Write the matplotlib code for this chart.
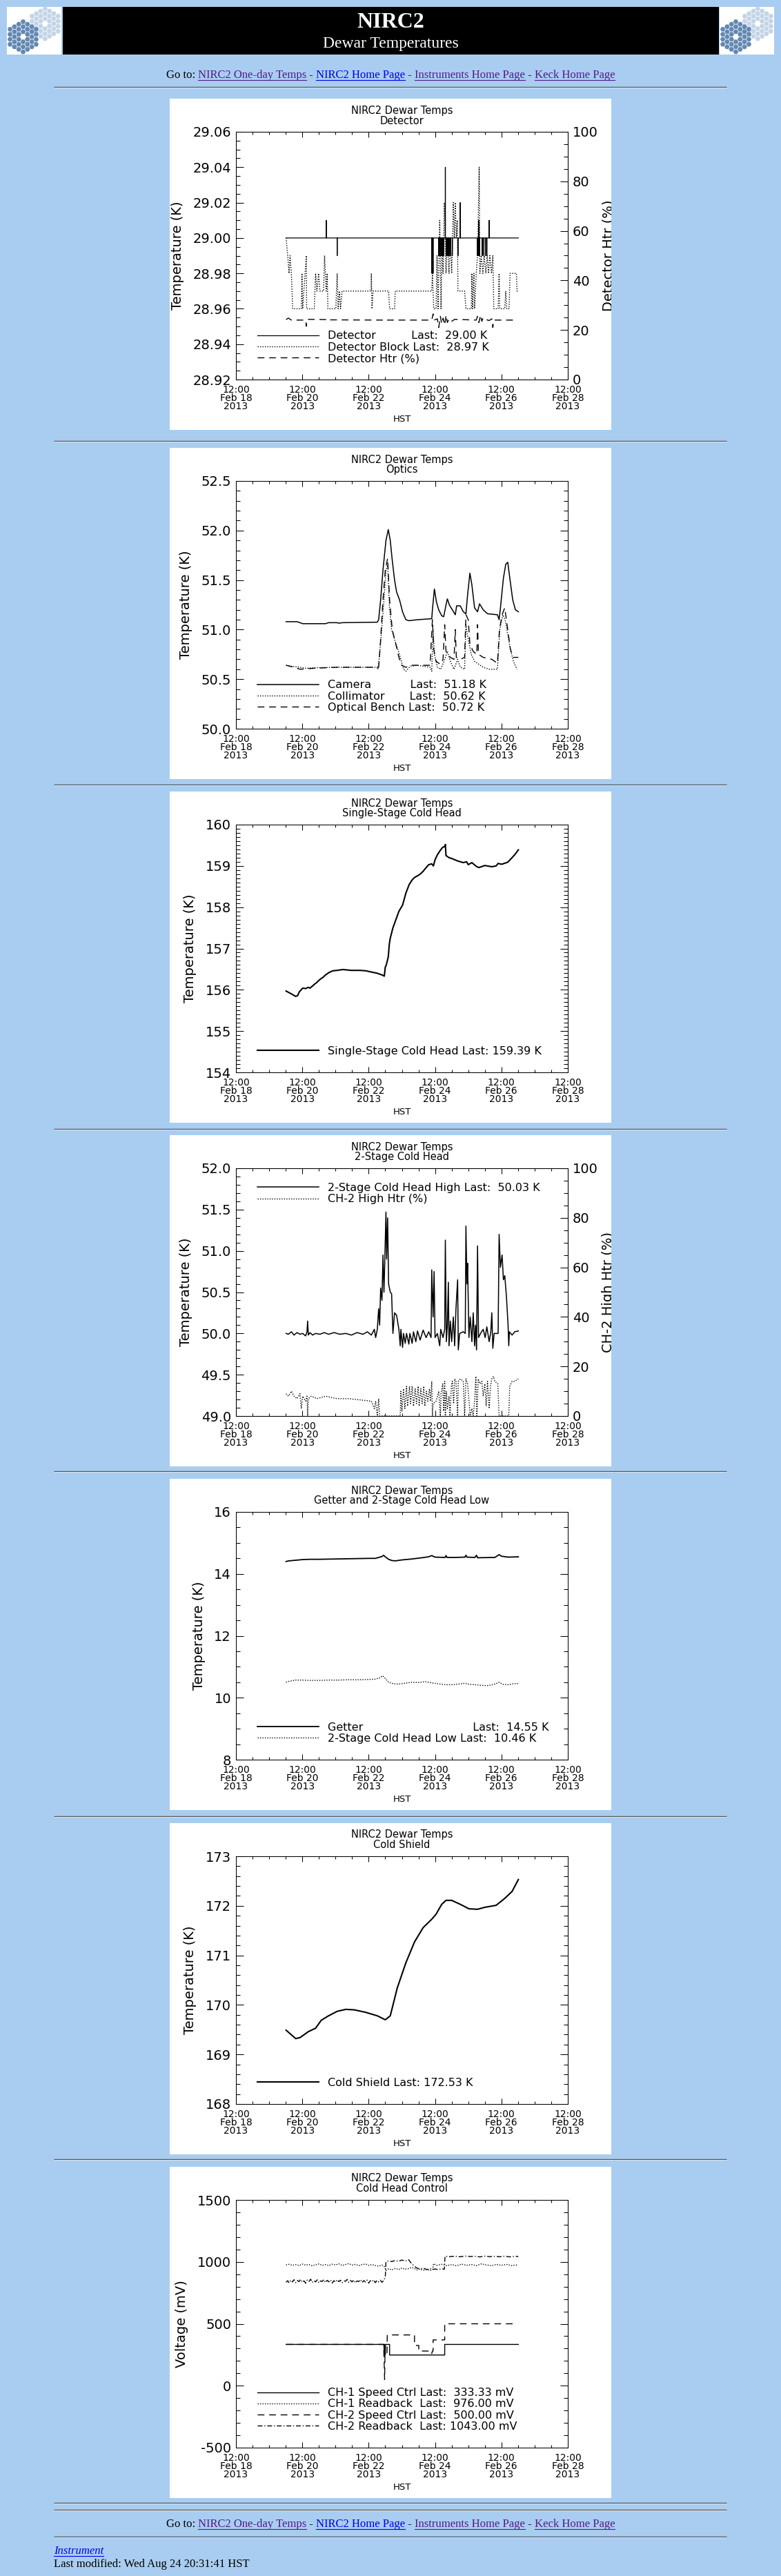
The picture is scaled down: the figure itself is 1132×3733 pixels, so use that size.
import numpy as np
import matplotlib
matplotlib.use('Agg')
import matplotlib.pyplot as plt
import matplotlib.dates as mdates
from matplotlib.patches import Rectangle, RegularPolygon
from matplotlib.ticker import MultipleLocator, FormatStrFormatter

plt.rcParams['font.family'] = ['DejaVu Sans']

W, H = 1132, 3733
PAGE_BG = '#a9cdf0'
PURPLE = '#551a8b'
BLUE = '#0000ee'
LOGO_DARK = '#6388b2'
LOGO_LIGHT = '#c3d4e7'

# x values are days after 2013-02-18 12:00 HST
T0 = np.datetime64('2013-02-18T12:00', 'm')
MAJOR_DAYS = [0, 2, 4, 6, 8, 10]

# ---------------- panel 1 : detector
DET_START, DET_END, DET_BASE = 1.51, 8.51, 29.00
DET_SPIKES = [(2.72, 29.01), (3.05, 28.99), (5.905, 28.98), (5.94, 28.98),
              (6.11, 28.99), (6.13, 28.99), (6.16, 28.99), (6.19, 28.99),
              (6.21, 28.99), (6.24, 28.99), (6.26, 28.99), (6.31, 29.04),
              (6.34, 28.99), (6.37, 28.99), (6.40, 28.99), (6.43, 28.99),
              (6.47, 28.99), (6.52, 28.99), (6.69, 28.99), (6.76, 29.02),
              (7.28, 28.99), (7.30, 28.99), (7.32, 29.01), (7.34, 28.99),
              (7.42, 28.99), (7.47, 28.99), (7.52, 28.99), (7.56, 28.99),
              (7.63, 29.01)]
DET_BLOCK = [(1.51, 29.00), (1.56, 28.99), (1.60, 28.98), (1.63, 28.99), (1.67, 28.98),
             (1.71, 28.96), (1.97, 28.96), (1.99, 28.98), (2.01, 28.96), (2.12, 28.99),
             (2.13, 28.96), (2.36, 28.96), (2.40, 28.98), (2.44, 28.97), (2.49, 28.98),
             (2.53, 28.97), (2.64, 28.97), (2.67, 28.99), (2.72, 28.97), (2.75, 28.98),
             (2.77, 28.96), (3.01, 28.96), (3.05, 28.98), (3.08, 28.96), (3.12, 28.97),
             (3.15, 28.96), (3.20, 28.97), (4.07, 28.97), (4.08, 28.98), (4.10, 28.96),
             (4.13, 28.97), (4.60, 28.97), (4.63, 28.96), (4.78, 28.96), (4.80, 28.97),
             (5.90, 28.97), (5.92, 28.98), (5.96, 28.96), (6.03, 28.96), (6.06, 28.99),
             (6.09, 28.96), (6.14, 29.01), (6.18, 28.96), (6.21, 29.00), (6.24, 28.98),
             (6.28, 29.02), (6.33, 28.98), (6.37, 29.00), (6.42, 28.98), (6.46, 29.00),
             (6.50, 28.98), (6.55, 29.02), (6.58, 29.00), (6.61, 29.02), (6.64, 29.00),
             (6.67, 29.01), (6.69, 28.97), (6.89, 28.97), (6.93, 28.96), (7.09, 28.96),
             (7.11, 28.98), (7.13, 28.96), (7.17, 28.98), (7.19, 28.96), (7.24, 28.98),
             (7.28, 28.99), (7.33, 29.04), (7.35, 28.98), (7.39, 28.99), (7.44, 28.98),
             (7.48, 28.99), (7.53, 28.98), (7.57, 28.99), (7.61, 28.98), (7.65, 28.99),
             (7.70, 28.98), (7.74, 28.99), (7.77, 28.96), (7.90, 28.96), (7.93, 28.98),
             (7.95, 28.96), (8.10, 28.96), (8.13, 28.97), (8.16, 28.96), (8.23, 28.96),
             (8.26, 28.98), (8.45, 28.98), (8.47, 28.97), (8.51, 28.97)]
DET_HTR = [(1.51, 24.2), (1.58, 24.8), (1.67, 24.0), (2.10, 24.0), (2.12, 21.5), (2.15, 24.3),
           (2.70, 24.2), (2.75, 24.6), (2.79, 24.1), (4.43, 24.0), (4.47, 23.6), (4.52, 24.0),
           (5.90, 24.0), (5.94, 26.5), (5.97, 24.0), (6.07, 24.5), (6.11, 21.0), (6.16, 25.5),
           (6.20, 22.5), (6.24, 24.8), (6.29, 22.0), (6.33, 26.0), (6.37, 23.0), (6.42, 24.5),
           (6.50, 23.5), (6.59, 24.3), (7.24, 24.0), (7.28, 25.5), (7.32, 23.0), (7.37, 26.0),
           (7.41, 23.5), (7.45, 25.0), (7.54, 24.2), (7.63, 23.8), (7.71, 24.5), (7.74, 21.0),
           (7.77, 24.0), (8.47, 24.0)]

# ---------------- panel 2 : optics
CAMERA = [(1.51, 51.08), (1.84, 51.08), (1.93, 51.07), (2.01, 51.06), (2.70, 51.06),
          (2.79, 51.07), (3.05, 51.07), (3.09, 51.065), (3.22, 51.07), (4.26, 51.075),
          (4.30, 51.10), (4.36, 51.30), (4.43, 51.60), (4.52, 51.90), (4.59, 52.01),
          (4.65, 51.90), (4.71, 51.70), (4.78, 51.50), (4.84, 51.38), (4.93, 51.30),
          (5.02, 51.18), (5.12, 51.10), (5.21, 51.09), (5.47, 51.10), (5.90, 51.11),
          (5.92, 51.20), (5.98, 51.41), (6.04, 51.28), (6.11, 51.20), (6.20, 51.14),
          (6.26, 51.13), (6.33, 51.25), (6.37, 51.31), (6.43, 51.25), (6.52, 51.20),
          (6.61, 51.15), (6.65, 51.24), (6.76, 51.24), (6.85, 51.18), (6.93, 51.16),
          (6.98, 51.35), (7.05, 51.57), (7.11, 51.45), (7.19, 51.22), (7.28, 51.18),
          (7.34, 51.26), (7.45, 51.20), (7.58, 51.16), (7.88, 51.15), (7.93, 51.10),
          (7.97, 51.22), (8.06, 51.52), (8.13, 51.66), (8.19, 51.68), (8.26, 51.50),
          (8.34, 51.30), (8.42, 51.20), (8.51, 51.18)]
COLLIMATOR = [(1.51, 50.64), (1.67, 50.63), (1.93, 50.62), (2.10, 50.61), (2.36, 50.615),
              (3.05, 50.62), (3.91, 50.62), (4.24, 50.62), (4.28, 50.60), (4.33, 50.75),
              (4.39, 51.00), (4.45, 51.25), (4.52, 51.60), (4.57, 51.65), (4.63, 51.20),
              (4.69, 51.00), (4.78, 50.90), (4.88, 50.80), (4.97, 50.70), (5.05, 50.60),
              (5.12, 50.58), (5.25, 50.63), (5.47, 50.64), (5.85, 50.62), (5.90, 50.58),
              (5.94, 51.00), (5.98, 50.75), (6.07, 50.62), (6.17, 50.60), (6.29, 50.70),
              (6.37, 50.78), (6.46, 50.68), (6.57, 50.60), (6.68, 50.70), (6.76, 50.62),
              (6.89, 50.60), (6.93, 51.05), (7.00, 50.90), (7.09, 50.75), (7.19, 50.68),
              (7.32, 50.65), (7.45, 50.62), (7.63, 50.60), (7.88, 50.60), (7.95, 51.00),
              (8.04, 51.15), (8.11, 51.10), (8.19, 50.95), (8.27, 50.80), (8.36, 50.68),
              (8.47, 50.60)]
OPT_BENCH = [(1.51, 50.64), (1.75, 50.62), (1.93, 50.60), (2.36, 50.61), (3.05, 50.62),
             (4.26, 50.62), (4.30, 50.62), (4.36, 50.90), (4.43, 51.30), (4.50, 51.60),
             (4.57, 51.72), (4.63, 51.30), (4.71, 51.00), (4.82, 50.85), (4.91, 50.72),
             (4.99, 50.64), (5.12, 50.62), (5.29, 50.64), (5.85, 50.64), (5.92, 51.10),
             (5.96, 50.80), (6.03, 50.68), (6.16, 50.65), (6.24, 50.70), (6.29, 51.05),
             (6.33, 50.78), (6.46, 50.72), (6.57, 50.70), (6.61, 51.00), (6.64, 50.72),
             (6.76, 50.70), (6.89, 50.72), (6.93, 51.15), (7.00, 51.10), (7.05, 50.85),
             (7.15, 50.78), (7.26, 50.75), (7.28, 51.05), (7.31, 50.75), (7.45, 50.72),
             (7.71, 50.70), (7.88, 50.66), (7.94, 51.00), (8.02, 51.15), (8.10, 51.22),
             (8.19, 51.00), (8.27, 50.80), (8.36, 50.72), (8.51, 50.72)]

# ---------------- panel 3 : single-stage cold head
SINGLE_STAGE = [(1.51, 155.97), (1.67, 155.90), (1.80, 155.84), (1.86, 155.86), (1.91, 155.95),
                (2.01, 156.04), (2.10, 156.03), (2.18, 156.06), (2.23, 156.04), (2.29, 156.08),
                (2.36, 156.13), (2.44, 156.18), (2.53, 156.25), (2.62, 156.30), (2.70, 156.36),
                (2.81, 156.42), (2.92, 156.46), (3.05, 156.47), (3.22, 156.49), (3.48, 156.47),
                (3.74, 156.47), (3.91, 156.46), (4.08, 156.43), (4.26, 156.40), (4.43, 156.35),
                (4.47, 156.33), (4.50, 156.55), (4.53, 156.60), (4.59, 156.80), (4.62, 157.10),
                (4.65, 157.25), (4.73, 157.50), (4.82, 157.70), (4.91, 157.90), (5.02, 158.05),
                (5.12, 158.34), (5.22, 158.55), (5.31, 158.66), (5.38, 158.72), (5.47, 158.76),
                (5.55, 158.80), (5.64, 158.87), (5.72, 158.95), (5.81, 159.03), (5.90, 159.05),
                (5.95, 159.00), (6.00, 159.15), (6.07, 159.27), (6.16, 159.38), (6.23, 159.45),
                (6.29, 159.47), (6.31, 159.52), (6.33, 159.25), (6.42, 159.20), (6.50, 159.18),
                (6.68, 159.12), (6.85, 159.08), (6.95, 159.10), (7.00, 159.03), (7.11, 159.08),
                (7.24, 158.99), (7.32, 158.96), (7.50, 159.01), (7.71, 158.98), (7.84, 159.00),
                (7.90, 159.06), (8.01, 159.04), (8.19, 159.09), (8.32, 159.20), (8.42, 159.29),
                (8.51, 159.39)]

# ---------------- panel 4 : 2-stage cold head
CH2_HIGH = [(1.51, 50.00), (1.58, 49.99), (1.67, 50.02), (1.75, 49.98), (1.84, 50.01),
            (1.93, 49.99), (2.01, 50.00), (2.10, 49.97), (2.14, 50.02), (2.16, 50.15),
            (2.18, 49.98), (2.23, 50.01), (2.31, 49.98), (2.40, 50.00), (2.53, 49.99),
            (2.66, 50.01), (2.79, 49.99), (2.96, 50.01), (3.13, 49.99), (3.31, 50.00),
            (3.48, 49.98), (3.65, 50.01), (3.83, 49.99), (3.96, 50.02), (4.08, 49.98),
            (4.17, 50.05), (4.21, 49.95), (4.26, 50.05), (4.30, 50.30), (4.33, 50.10),
            (4.36, 50.55), (4.40, 50.40), (4.43, 50.95), (4.46, 50.50), (4.48, 50.80),
            (4.52, 51.47), (4.54, 50.90), (4.57, 51.40), (4.60, 50.60), (4.65, 50.50),
            (4.69, 50.48), (4.73, 50.00), (4.78, 50.25), (4.84, 50.22), (4.91, 50.05),
            (4.95, 49.85), (4.97, 50.05), (5.02, 49.83), (5.05, 50.00), (5.10, 49.88),
            (5.14, 50.00), (5.21, 49.87), (5.24, 50.00), (5.31, 49.88), (5.35, 50.02),
            (5.42, 49.90), (5.47, 50.03), (5.55, 49.92), (5.64, 50.04), (5.73, 49.95),
            (5.81, 50.02), (5.88, 49.95), (5.90, 50.77), (5.94, 50.20), (5.97, 50.75),
            (6.00, 49.95), (6.07, 50.00), (6.14, 49.85), (6.17, 50.05), (6.24, 49.95),
            (6.29, 50.05), (6.31, 51.13), (6.34, 49.90), (6.37, 50.10), (6.40, 50.62),
            (6.42, 49.85), (6.46, 50.15), (6.50, 49.90), (6.55, 50.20), (6.59, 49.85),
            (6.63, 50.30), (6.68, 50.65), (6.70, 49.80), (6.74, 50.00), (6.85, 50.02),
            (6.91, 50.00), (6.93, 51.30), (6.96, 50.60), (6.98, 50.85), (7.02, 49.95),
            (7.06, 50.20), (7.11, 49.90), (7.15, 50.25), (7.19, 49.85), (7.22, 50.10),
            (7.25, 49.80), (7.28, 51.06), (7.31, 49.95), (7.37, 50.00), (7.45, 50.05),
            (7.51, 49.95), (7.56, 50.08), (7.63, 49.90), (7.68, 50.02), (7.71, 50.25),
            (7.74, 49.82), (7.78, 50.00), (7.90, 50.00), (7.93, 51.20), (7.97, 50.80),
            (8.02, 50.95), (8.06, 50.65), (8.10, 50.70), (8.15, 50.45), (8.20, 50.10),
            (8.22, 49.85), (8.24, 50.02), (8.32, 49.98), (8.40, 50.02), (8.51, 50.03)]
CH2_HTR = [(1.51, 9), (1.58, 8), (1.67, 10), (1.75, 8), (1.84, 7), (1.93, 9), (1.97, 3),
           (2.01, 8), (2.10, 6), (2.14, 8), (2.16, 0), (2.18, 7), (2.27, 8), (2.44, 7),
           (2.70, 8), (3.05, 7), (3.39, 7), (3.74, 6.5), (4.08, 6), (4.17, 3), (4.21, 6),
           (4.26, 0), (4.30, 7), (4.33, 0), (4.95, 0), (4.97, 10), (5.00, 2), (5.05, 11),
           (5.09, 3), (5.14, 12), (5.17, 4), (5.23, 12), (5.26, 5), (5.31, 12), (5.35, 4),
           (5.40, 11), (5.44, 5), (5.49, 12), (5.52, 4), (5.57, 11), (5.61, 5), (5.66, 12),
           (5.69, 4), (5.74, 10), (5.78, 6), (5.83, 11), (5.86, 6), (5.90, 14), (5.92, 0),
           (5.94, 5), (6.03, 6), (6.07, 8), (6.11, 10), (6.16, 0), (6.18, 9), (6.23, 13),
           (6.26, 2), (6.29, 14), (6.31, 0), (6.34, 10), (6.37, 3), (6.42, 8), (6.45, 0),
           (6.49, 12), (6.52, 14), (6.56, 5), (6.59, 15), (6.63, 14), (6.68, 0), (6.70, 14),
           (6.76, 15), (6.85, 14), (6.89, 0), (6.93, 15), (6.98, 13), (7.06, 0), (7.11, 3),
           (7.15, 0), (7.19, 6), (7.23, 16), (7.26, 0), (7.30, 15), (7.35, 13), (7.41, 14),
           (7.45, 8), (7.50, 13), (7.54, 4), (7.58, 14), (7.63, 3), (7.67, 12), (7.71, 15),
           (7.76, 16), (7.80, 14), (7.89, 13), (7.93, 0), (8.22, 0), (8.25, 12), (8.32, 14),
           (8.40, 14), (8.51, 15)]

# ---------------- panel 5 : getter and 2-stage low
GETTER = [(1.51, 14.40), (1.60, 14.42), (1.80, 14.44), (2.00, 14.46), (2.20, 14.47),
          (2.50, 14.47), (3.00, 14.48), (3.50, 14.49), (4.00, 14.50), (4.20, 14.50),
          (4.30, 14.53), (4.40, 14.56), (4.45, 14.60), (4.50, 14.55), (4.60, 14.47),
          (4.70, 14.43), (4.80, 14.42), (5.00, 14.45), (5.30, 14.48), (5.60, 14.52),
          (5.80, 14.55), (5.90, 14.59), (6.00, 14.54), (6.30, 14.53), (6.33, 14.59),
          (6.36, 14.53), (6.60, 14.53), (6.90, 14.54), (6.93, 14.60), (6.96, 14.54),
          (7.20, 14.53), (7.25, 14.60), (7.28, 14.52), (7.80, 14.53), (7.93, 14.62),
          (8.00, 14.57), (8.20, 14.54), (8.51, 14.55)]
CH2_LOW = [(1.51, 10.50), (1.60, 10.53), (1.70, 10.55), (1.80, 10.57), (2.00, 10.57),
           (2.20, 10.56), (2.50, 10.56), (2.80, 10.57), (3.10, 10.57), (3.40, 10.58),
           (3.70, 10.58), (4.00, 10.59), (4.20, 10.60), (4.35, 10.65), (4.42, 10.71),
           (4.50, 10.62), (4.60, 10.50), (4.75, 10.45), (4.90, 10.44), (5.10, 10.47),
           (5.30, 10.50), (5.50, 10.49), (5.70, 10.52), (5.90, 10.48), (6.10, 10.45),
           (6.30, 10.42), (6.50, 10.42), (6.70, 10.44), (6.90, 10.47), (7.00, 10.44),
           (7.20, 10.42), (7.40, 10.40), (7.60, 10.39), (7.80, 10.44), (7.93, 10.50),
           (8.05, 10.43), (8.20, 10.42), (8.35, 10.45), (8.51, 10.46)]

# ---------------- panel 6 : cold shield
COLD_SHIELD = [(1.51, 169.49), (1.80, 169.32), (1.93, 169.34), (2.18, 169.46), (2.40, 169.53),
               (2.57, 169.69), (2.79, 169.78), (3.05, 169.87), (3.31, 169.91), (3.57, 169.90),
               (3.91, 169.85), (4.26, 169.78), (4.50, 169.70), (4.65, 169.78), (4.86, 170.34),
               (5.12, 170.85), (5.38, 171.27), (5.64, 171.56), (5.90, 171.73), (6.03, 171.83),
               (6.20, 172.03), (6.33, 172.11), (6.50, 172.11), (6.76, 172.03), (7.02, 171.94),
               (7.28, 171.93), (7.50, 171.97), (7.84, 172.01), (8.10, 172.15), (8.32, 172.29),
               (8.51, 172.53)]

# ---------------- panel 7 : cold head control
CH1_SPEED = [(1.51, 333.33), (4.46, 333.33), (4.465, 240), (4.47, 333.33), (4.48, 240),
             (4.485, 333.33), (4.50, 250), (4.505, 333.33), (4.63, 333.33), (4.63, 248),
             (6.29, 248), (6.29, 333.33), (8.51, 333.33)]
CH1_READ = [(1.51, 975), (1.60, 980), (1.70, 972), (1.80, 978), (1.90, 970), (2.00, 982),
            (2.10, 974), (2.20, 979), (2.30, 968), (2.40, 977), (2.50, 983), (2.60, 972),
            (2.70, 978), (2.80, 970), (2.90, 981), (3.00, 975), (3.10, 984), (3.20, 971),
            (3.30, 978), (3.40, 986), (3.50, 974), (3.60, 980), (3.70, 969), (3.80, 977),
            (3.90, 983), (4.00, 972), (4.10, 978), (4.20, 970), (4.30, 965), (4.40, 975),
            (4.48, 960), (4.52, 930), (4.60, 945), (4.70, 935), (4.80, 948), (4.90, 938),
            (5.00, 950), (5.10, 940), (5.20, 946), (5.30, 955), (5.38, 945), (5.45, 935),
            (5.55, 942), (5.65, 932), (5.75, 940), (5.85, 930), (5.93, 938), (5.95, 985),
            (6.05, 972), (6.20, 980), (6.35, 970), (6.50, 978), (6.65, 968), (6.80, 982),
            (6.95, 972), (7.10, 978), (7.25, 970), (7.40, 984), (7.55, 975), (7.70, 969),
            (7.85, 979), (8.00, 972), (8.15, 980), (8.30, 970), (8.51, 976)]
CH2_SPEED = [(1.51, 333.33), (4.45, 333.33), (4.46, 250), (4.48, 50), (4.49, 250),
             (4.55, 250), (4.56, 410), (5.38, 410), (5.38, 325), (5.51, 325), (5.51, 280),
             (5.88, 280), (5.90, 260), (5.92, 280), (5.94, 280), (5.94, 370), (6.29, 370),
             (6.29, 500), (8.44, 500)]
CH2_READ = [(1.51, 835), (1.56, 848), (1.60, 830), (1.65, 852), (1.70, 838), (1.75, 856),
            (1.80, 832), (1.85, 850), (1.90, 840), (1.95, 858), (2.00, 835), (2.05, 847),
            (2.10, 828), (2.15, 853), (2.20, 841), (2.25, 860), (2.30, 834), (2.35, 849),
            (2.40, 838), (2.45, 855), (2.50, 830), (2.55, 846), (2.60, 842), (2.65, 857),
            (2.70, 833), (2.75, 851), (2.80, 839), (2.85, 854), (2.90, 829), (2.95, 848),
            (3.00, 836), (3.05, 856), (3.10, 840), (3.15, 852), (3.20, 831), (3.25, 847),
            (3.30, 843), (3.35, 858), (3.40, 834), (3.45, 850), (3.50, 838), (3.55, 854),
            (3.60, 830), (3.65, 846), (3.70, 841), (3.75, 857), (3.80, 833), (3.85, 849),
            (3.90, 837), (3.95, 853), (4.00, 828), (4.05, 848), (4.10, 840), (4.15, 855),
            (4.20, 832), (4.25, 850), (4.30, 838), (4.35, 852), (4.40, 835), (4.45, 848),
            (4.50, 880), (4.52, 1000), (4.60, 1008), (4.70, 1002), (4.80, 1012), (4.90, 1004),
            (5.00, 1015), (5.10, 1006), (5.20, 1018), (5.25, 1000), (5.30, 985), (5.40, 960),
            (5.45, 950), (5.55, 944), (5.65, 948), (5.75, 938), (5.85, 945), (5.93, 940),
            (6.00, 942), (6.10, 938), (6.20, 944), (6.28, 940), (6.30, 1045), (6.45, 1042),
            (6.60, 1046), (6.75, 1041), (6.90, 1047), (7.05, 1043), (7.20, 1045), (7.35, 1040),
            (7.50, 1046), (7.65, 1042), (7.80, 1045), (7.95, 1041), (8.10, 1046), (8.25, 1040),
            (8.40, 1045), (8.51, 1043)]

LINKS = [('Go to: ', 'black', False), ('NIRC2 One-day Temps', PURPLE, True), (' - ', 'black', False),
         ('NIRC2 Home Page', BLUE, True), (' - ', 'black', False),
         ('Instruments Home Page', PURPLE, True), (' - ', 'black', False),
         ('Keck Home Page', PURPLE, True)]

PANEL_TOPS = [143, 649, 1147, 1645, 2143, 2642, 3140]
HR_YS = [126, 639, 1137, 1636, 2132, 2632, 3129, 3627, 3637, 3676]

DOT = (0, (1, 1.5))
DASH = (0, (7, 5))
DASHDOT = (0, (5, 2, 1, 2))


def to_time(days):
    mins = np.round(np.asarray(days, dtype=float) * 1440).astype(np.int64)
    return T0 + mins.astype('timedelta64[m]')


def unzip(pairs):
    d, v = zip(*pairs)
    return to_time(d), np.array(v)


def spike_trace(start, end, base, spikes, w=0.003):
    xs, ys = [start], [base]
    for d, v in spikes:
        xs += [d - w, d, d + w]
        ys += [base, v, base]
    xs.append(end)
    ys.append(base)
    return to_time(xs), np.array(ys)


fig = plt.figure(figsize=(W / 100, H / 100), dpi=100)
fig.patch.set_facecolor(PAGE_BG)
page = fig.add_axes([0, 0, 1, 1])
page.set_xlim(0, W)
page.set_ylim(H, 0)
page.axis('off')
renderer = fig.canvas.get_renderer()


def text_width(s, **kw):
    t = page.text(0, 0, '|' + s + '|', **kw)
    w1 = t.get_window_extent(renderer).width
    t.remove()
    t = page.text(0, 0, '||', **kw)
    w0 = t.get_window_extent(renderer).width
    t.remove()
    return w1 - w0


def link_row(baseline):
    kw = dict(family='Liberation Serif', fontsize=12)
    widths = [text_width(s, **kw) for s, _, _ in LINKS]
    x = (W - sum(widths)) / 2
    for (s, col, under), w in zip(LINKS, widths):
        page.text(x, baseline, s, color=col, ha='left', va='baseline', **kw)
        if under:
            page.plot([x, x + w], [baseline + 2.5, baseline + 2.5], color=col, lw=0.8)
        x += w


def hr(y):
    page.plot([78, 1053], [y, y], color='#505050', lw=1.0, solid_capstyle='butt')
    page.plot([78, 1053], [y + 1.4, y + 1.4], color='#dde3ea', lw=0.8, solid_capstyle='butt')


def keck_logo(x0, y0):
    box = Rectangle((x0, y0), 79, 69, fc='white', ec='none', zorder=1)
    page.add_patch(box)
    R = 4.2
    for cx, cy, col in [(x0 + 55.3, y0 + 24.3, LOGO_LIGHT), (x0 + 23.5, y0 + 43.3, LOGO_DARK)]:
        for q in range(-3, 4):
            for r in range(-3, 4):
                d = max(abs(q), abs(r), abs(q + r))
                if d == 0 or d > 3:
                    continue
                hx = cx + 1.5 * R * q
                hy = cy + np.sqrt(3) * R * (r + q / 2)
                hexa = RegularPolygon((hx, hy), 6, radius=3.75, orientation=np.pi / 6,
                                      fc=col, ec='none', zorder=2)
                page.add_patch(hexa)
                hexa.set_clip_path(box)


# ---------------- header
keck_logo(10, 10)
keck_logo(1043, 10)
page.add_patch(Rectangle((91, 10), 951, 69, fc='black', ec='none', zorder=1))
page.text(566, 32, 'NIRC2', color='white', fontsize=23, fontweight='bold',
          family='Liberation Serif', ha='center', va='center', zorder=3)
page.text(566, 63, 'Dewar Temperatures', color='white', fontsize=17,
          family='Liberation Serif', ha='center', va='center', zorder=3)
link_row(113)
for y in HR_YS:
    hr(y)
link_row(3662)
page.text(78, 3701, 'Instrument', color=BLUE, style='italic', family='Liberation Serif',
          fontsize=12, ha='left', va='baseline')
iw = text_width('Instrument', family='Liberation Serif', fontsize=12, style='italic')
page.plot([78, 78 + iw], [3703.5, 3703.5], color=BLUE, lw=0.8)
page.text(78, 3720, 'Last modified: Wed Aug 24 20:31:41 HST', color='black',
          family='Liberation Serif', fontsize=12, ha='left', va='baseline')


def panel(top, subtitle, ylim, ymaj, ymin, yfmt, ylabel='Temperature (K)', right_label=None):
    rect = Rectangle((246, top), 640, 480, fc='white', ec='none', zorder=1)
    page.add_patch(rect)
    page.text(582.5, top + 17, 'NIRC2 Dewar Temps', ha='center', va='center', fontsize=10.5, zorder=3)
    page.text(582.5, top + 32, subtitle, ha='center', va='center', fontsize=10.5, zorder=3)
    ax = fig.add_axes([342 / W, 1 - (top + 407) / H, 481 / W, 359 / H])
    ax.set_xlim(T0, T0 + np.timedelta64(10, 'D'))
    ax.set_ylim(*ylim)
    ax.set_xticks(to_time(MAJOR_DAYS))
    ax.xaxis.set_minor_locator(mdates.HourLocator(byhour=[0, 12]))
    ax.xaxis.set_major_formatter(mdates.DateFormatter('%H:%M\n%b %d\n%Y'))
    for lab in ax.get_xticklabels():
        lab.set_linespacing(0.85)
    ax.yaxis.set_major_locator(MultipleLocator(ymaj))
    ax.yaxis.set_minor_locator(MultipleLocator(ymin))
    ax.yaxis.set_major_formatter(FormatStrFormatter(yfmt))
    twin = right_label is not None
    ax.tick_params(axis='x', which='both', direction='in', top=True, width=0.75,
                   labelsize=10, pad=5.5)
    ax.tick_params(axis='x', which='major', length=5.5)
    ax.tick_params(axis='x', which='minor', length=3)
    ax.tick_params(axis='y', which='both', direction='in', right=not twin, width=0.75,
                   labelsize=14, pad=5)
    ax.tick_params(axis='y', which='major', length=8)
    ax.tick_params(axis='y', which='minor', length=4.5)
    for sp in ax.spines.values():
        sp.set_linewidth(0.75)
    ax.set_ylabel(ylabel, fontsize=14, labelpad=9)
    ax.set_xlabel('HST', fontsize=9.5, labelpad=3)
    ax2 = None
    if twin:
        ax2 = ax.twinx()
        ax2.set_ylim(0, 100)
        ax2.yaxis.set_major_locator(MultipleLocator(20))
        ax2.yaxis.set_minor_locator(MultipleLocator(5))
        ax2.tick_params(axis='y', which='both', direction='in', width=0.75, labelsize=14, pad=5)
        ax2.tick_params(axis='y', which='major', length=8)
        ax2.tick_params(axis='y', which='minor', length=4.5)
        for sp in ax2.spines.values():
            sp.set_linewidth(0.75)
        t = page.text(872, top + 227.5, right_label, rotation=90, ha='left', va='center',
                      fontsize=14, zorder=3)
        t.set_clip_path(rect)
        t.set_clip_on(True)
    return ax, ax2


def legend(ax, handles, loc='lower left', anchor=(0.064, 0.064)):
    ax.legend(handles=handles, loc=loc, bbox_to_anchor=anchor, frameon=False, fontsize=11.5,
              handlelength=5.6, handletextpad=0.8, borderpad=0, borderaxespad=0,
              labelspacing=0.08)


# ---------------- panel 1
ax, ax2 = panel(PANEL_TOPS[0], 'Detector', (28.92, 29.06), 0.02, 0.005, '%.2f',
                right_label='Detector Htr (%)')
l1, = ax.plot(*spike_trace(DET_START, DET_END, DET_BASE, DET_SPIKES), color='black', lw=0.9,
              label='Detector          Last:  29.00 K')
l2, = ax.plot(*unzip(DET_BLOCK), color='black', lw=1.0, ls=DOT,
              label='Detector Block Last:  28.97 K')
l3, = ax2.plot(*unzip(DET_HTR), color='black', lw=1.0, ls=DASH, label='Detector Htr (%)')
legend(ax2, [l1, l2, l3])

# ---------------- panel 2
ax, _ = panel(PANEL_TOPS[1], 'Optics', (50.0, 52.5), 0.5, 0.1, '%.1f')
l1, = ax.plot(*unzip(CAMERA), color='black', lw=1.1, label='Camera           Last:  51.18 K')
l2, = ax.plot(*unzip(COLLIMATOR), color='black', lw=1.0, ls=DOT,
              label='Collimator       Last:  50.62 K')
l3, = ax.plot(*unzip(OPT_BENCH), color='black', lw=1.0, ls=DASH,
              label='Optical Bench Last:  50.72 K')
legend(ax, [l1, l2, l3])

# ---------------- panel 3
ax, _ = panel(PANEL_TOPS[2], 'Single-Stage Cold Head', (154, 160), 1, 0.1, '%d')
l1, = ax.plot(*unzip(SINGLE_STAGE), color='black', lw=1.5,
              label='Single-Stage Cold Head Last: 159.39 K')
legend(ax, [l1])

# ---------------- panel 4
ax, ax2 = panel(PANEL_TOPS[3], '2-Stage Cold Head', (49.0, 52.0), 0.5, 0.1, '%.1f',
                right_label='CH-2 High Htr (%)')
l1, = ax.plot(*unzip(CH2_HIGH), color='black', lw=1.1,
              label='2-Stage Cold Head High Last:  50.03 K')
l2, = ax2.plot(*unzip(CH2_HTR), color='black', lw=1.0, ls=DOT, label='CH-2 High Htr (%)')
legend(ax2, [l1, l2], loc='upper left', anchor=(0.064, 1 - 21 / 359))

# ---------------- panel 5
ax, _ = panel(PANEL_TOPS[4], 'Getter and 2-Stage Cold Head Low', (8, 16), 2, 0.5, '%d')
l1, = ax.plot(*unzip(GETTER), color='black', lw=1.3,
              label='Getter' + ' ' * 31 + 'Last:  14.55 K')
l2, = ax.plot(*unzip(CH2_LOW), color='black', lw=1.0, ls=DOT,
              label='2-Stage Cold Head Low Last:  10.46 K')
legend(ax, [l1, l2])

# ---------------- panel 6
ax, _ = panel(PANEL_TOPS[5], 'Cold Shield', (168, 173), 1, 0.2, '%d')
l1, = ax.plot(*unzip(COLD_SHIELD), color='black', lw=1.5, label='Cold Shield Last: 172.53 K')
legend(ax, [l1])

# ---------------- panel 7
ax, _ = panel(PANEL_TOPS[6], 'Cold Head Control', (-500, 1500), 500, 100, '%d',
              ylabel='Voltage (mV)')
l1, = ax.plot(*unzip(CH1_SPEED), color='black', lw=1.0,
              label='CH-1 Speed Ctrl Last:  333.33 mV')
l2, = ax.plot(*unzip(CH1_READ), color='black', lw=1.0, ls=DOT,
              label='CH-1 Readback  Last:  976.00 mV')
l3, = ax.plot(*unzip(CH2_SPEED), color='black', lw=1.0, ls=DASH,
              label='CH-2 Speed Ctrl Last:  500.00 mV')
l4, = ax.plot(*unzip(CH2_READ), color='black', lw=1.0, ls=DASHDOT,
              label='CH-2 Readback  Last: 1043.00 mV')
legend(ax, [l1, l2, l3, l4])

fig.savefig('out.png', dpi=100, facecolor=PAGE_BG)
